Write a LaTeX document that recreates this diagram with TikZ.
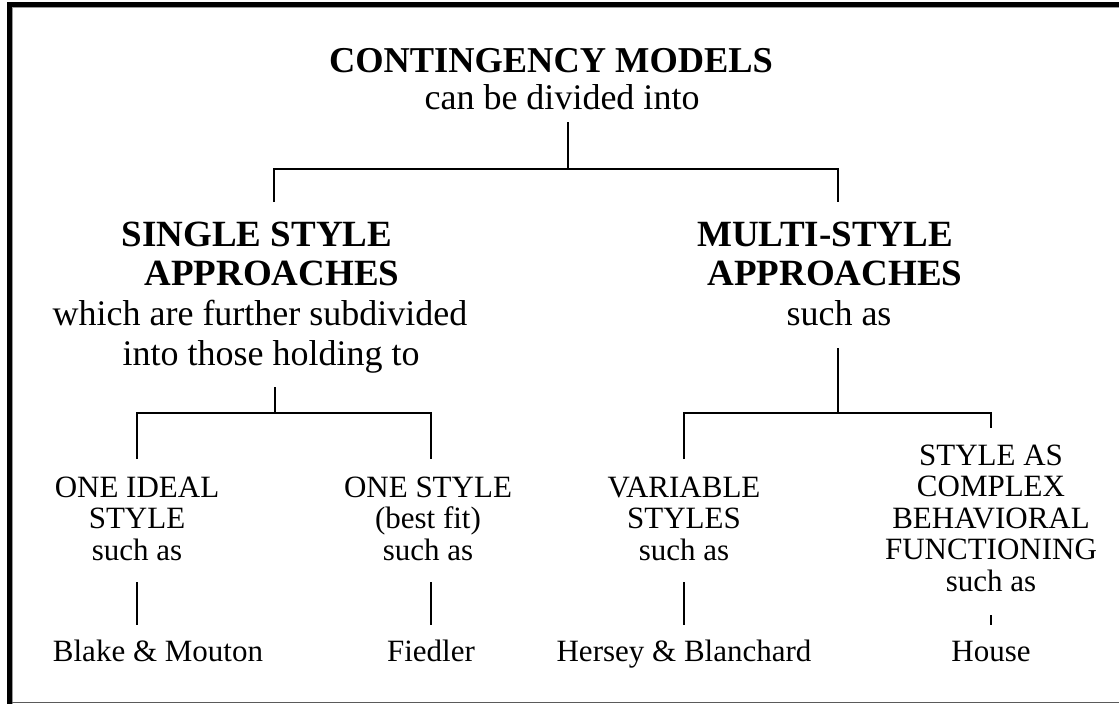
\documentclass[tikz,border=0pt]{standalone}
\usepackage{fontspec}
\setmainfont{Liberation Serif}
\usepackage{tikz}
\usetikzlibrary{positioning}
\definecolor{frameshade}{HTML}{9A9A9A}
\definecolor{bottomline}{HTML}{5A5A5A}

\begin{document}
\begin{tikzpicture}[
    x=1pt, y=-1pt,
    title/.style={font=\bfseries\fontsize{36.4}{38}\selectfont, inner sep=0pt, anchor=base},
    head/.style={font=\bfseries\fontsize{37}{38.5}\selectfont, inner sep=0pt, align=center, anchor=base},
    desc/.style={font=\fontsize{36}{39.5}\selectfont, inner sep=0pt, align=center, anchor=base},
    kind/.style={font=\fontsize{31}{31.5}\selectfont, inner sep=0pt, align=center, anchor=base},
    link/.style={line width=2pt},
]
\useasboundingbox (0,0) rectangle (1119,704);

% frame
\fill (7,2) rectangle (12,704);
\fill (7,2) rectangle (1119,7);
\draw[frameshade, line width=1pt] (12.5,7) -- (12.5,704);
\draw[frameshade, line width=1pt] (12,7.5) -- (1119,7.5);
\draw[bottomline, line width=1.5pt] (12,702.5) -- (1119,702.5);

% top (base = last line)
\node[title] (cm) at (551,72) {CONTINGENCY MODELS};
\node[desc] (cmdiv) at (562,109) {can be divided into};

% second level
\node[head] (ss) at (264.5,285) {SINGLE STYLE\kern15pt\\\kern15pt APPROACHES};
\node[desc] (ssdesc) at (265.5,365) {which are further subdivided\kern11pt\\\kern11pt into those holding to};
\node[head] (ms) at (830,285) {MULTI-STYLE\kern10pt\\\kern10pt APPROACHES};
\node[desc] (msdesc) at (839,325) {such as};

% third level
\node[kind] (ideal) at (137,560) {ONE IDEAL\\STYLE\\such as};
\node[kind] (best) at (428,560) {ONE STYLE\\(best fit)\\such as};
\node[kind] (var) at (684,560) {VARIABLE\\STYLES\\such as};
\node[kind] (cbf) at (991,591) {STYLE AS\\COMPLEX\\BEHAVIORAL\\FUNCTIONING\\such as};

% examples
\node[kind] (blake) at (158,661) {Blake \& Mouton};
\node[kind] (fiedler) at (431,661) {Fiedler};
\node[kind] (hersey) at (684,661) {Hersey \& Blanchard};
\node[kind] (house) at (991,661) {House};

% connectors
\coordinate (cmout) at (568,122);
\coordinate (cmfork) at (568,169);
\coordinate (ssin) at (274,202);
\coordinate (msin) at (838,202);
\draw[link] (cmout) -- (cmfork);
\draw[link] (ssin) |- (cmfork) -| (msin);

\coordinate (ssout) at (275,387);
\coordinate (ssfork) at (275,413);
\coordinate (idealin) at (137,459);
\coordinate (bestin) at (431,459);
\draw[link] (ssout) -- (ssfork);
\draw[link] (idealin) |- (ssfork) -| (bestin);

\coordinate (msout) at (838,348);
\coordinate (msfork) at (838,413);
\coordinate (varin) at (684,459);
\coordinate (cbfin) at (991,428);
\draw[link] (msout) -- (msfork);
\draw[link] (varin) |- (msfork) -| (cbfin);

\coordinate (idealout) at (137,582);
\coordinate (bestout) at (431,582);
\coordinate (varout) at (684,582);
\coordinate (cbfout) at (991,615);
\coordinate (blakein) at (137,625);
\coordinate (fiedlerin) at (431,625);
\coordinate (herseyin) at (684,625);
\coordinate (housein) at (991,625);
\draw[link] (idealout) -- (blakein);
\draw[link] (bestout) -- (fiedlerin);
\draw[link] (varout) -- (herseyin);
\draw[link] (cbfout) -- (housein);

\end{tikzpicture}
\end{document}
